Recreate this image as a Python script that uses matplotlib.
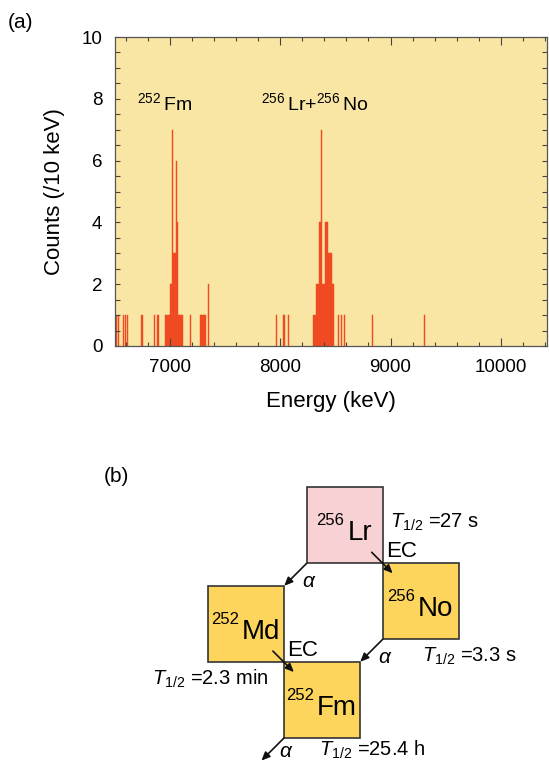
import numpy as np
import matplotlib
matplotlib.use('Agg')
import matplotlib.pyplot as plt
from matplotlib.patches import Rectangle
from matplotlib.ticker import MultipleLocator

plt.rcParams['font.family'] = ['Liberation Sans', 'DejaVu Sans']
plt.rcParams['mathtext.fontset'] = 'custom'
plt.rcParams['mathtext.rm'] = 'Liberation Sans'
plt.rcParams['mathtext.it'] = 'Liberation Sans:italic'
plt.rcParams['mathtext.bf'] = 'Liberation Sans:bold'

# ---- panel (a) data: lower edge of each 10 keV bin and its counts
bin_lo = [6510, 6530, 6570, 6590, 6610,
          6740, 6850, 6880, 6890,
          6950, 6960, 6970, 6980, 6990,
          7000, 7010, 7020, 7030, 7040, 7050, 7060, 7070, 7080, 7090, 7100, 7110,
          7180,
          7270, 7280, 7290, 7300, 7310, 7320, 7340,
          7960, 8020, 8030, 8070,
          8300, 8310, 8320, 8330, 8340, 8350, 8360, 8370, 8380, 8390, 8400,
          8410, 8420, 8430, 8440, 8450, 8460, 8470, 8480,
          8520, 8550, 8580, 8830, 9300]
counts = [1, 1, 1, 1, 1,
          1, 1, 1, 1,
          1, 1, 1, 1, 1,
          2, 2, 7, 3, 3, 6, 4, 1, 1, 1, 1, 1,
          1,
          1, 1, 1, 1, 1, 1, 2,
          1, 1, 1, 1,
          1, 1, 2, 2, 2, 4, 4, 7, 2, 2, 2,
          4, 4, 3, 3, 3, 3, 2, 2,
          1, 1, 1, 1, 1]
bin_width = 10
xticks = [7000, 8000, 9000, 10000]
yticks = [0, 2, 4, 6, 8, 10]

# ---- panel (b) data: decay chain
nuclides = ['Lr', 'No', 'Md', 'Fm']
masses = ['256', '256', '252', '252']
half_lives = ['27 s', '3.3 s', '2.3 min', '25.4 h']
# (parent, daughter, mode)
decays = [('Lr', 'No', 'EC'), ('Lr', 'Md', 'α'), ('Md', 'Fm', 'EC'), ('No', 'Fm', 'α')]

W, H = 549, 762
fig = plt.figure(figsize=(W / 100, H / 100), dpi=100)

# ================= panel (a)
ax = fig.add_axes([115 / W, 1 - 346 / H, 432 / W, 309 / H])
ax.set_facecolor('#FAE6A4')
ax.bar(bin_lo, counts, width=bin_width, align='edge', color='#F04A22',
       edgecolor='#F04A22', linewidth=0.3)
ax.set_xlim(6500, 10420)
ax.set_ylim(0, 10)
ax.set_xticks(xticks)
ax.set_yticks(yticks)
ax.xaxis.set_minor_locator(MultipleLocator(200))
ax.yaxis.set_minor_locator(MultipleLocator(0.5))
ax.tick_params(which='both', direction='in', top=True, right=True, color='#444444')
ax.tick_params(axis='x', which='major', length=6, width=0.8, labelsize=13.5, pad=9)
ax.tick_params(axis='x', which='minor', length=3, width=0.8)
ax.tick_params(axis='y', which='both', length=3.5, width=0.8, labelsize=13.5, pad=9)
for s in ax.spines.values():
    s.set_color('#555555')
    s.set_linewidth(0.9)
ax.set_xlabel('Energy (keV)', fontsize=16, labelpad=11)
ax.set_ylabel('Counts (/10 keV)', fontsize=16, labelpad=12)
ax.text(6702, 7.64, r'$^{252}\,$Fm', fontsize=14, ha='left', va='baseline')
ax.text(7821, 7.64, r'$^{256}\,$Lr+$^{256}\,$No', fontsize=14, ha='left', va='baseline')

fig.text(8 / W, 1 - 23 / H, '(a)', fontsize=15, ha='left', va='center')
fig.text(104 / W, 1 - 477 / H, '(b)', fontsize=15, ha='left', va='center')

# ================= panel (b)
ppu = 76.0  # pixels per box
bx = fig.add_axes([0, 0, 1, 1])
bx.set_xlim(-306.7 / ppu, (W - 306.7) / ppu)
bx.set_ylim(-(H - 487.3) / ppu, 487.3 / ppu)
bx.axis('off')
bx.patch.set_alpha(0)

step = {'EC': np.array([1.0, -1.0]), 'α': np.array([-1.3, -1.3])}
pos = {'Lr': np.array([0.0, 0.0])}
for parent, daughter, mode in decays:
    if daughter not in pos:
        pos[daughter] = pos[parent] + step[mode]

colors = {'Lr': '#F7D1D3'}
for n in nuclides:
    x0, y0 = pos[n]
    bx.add_patch(Rectangle((x0, y0 - 1), 1, 1, facecolor=colors.get(n, '#FDD55C'),
                           edgecolor='#333333', linewidth=1.2, zorder=2))

renderer = fig.canvas.get_renderer()
for n, m in zip(nuclides, masses):
    x0, y0 = pos[n]
    t1 = bx.text(0, 0, m, fontsize=12, ha='left', va='baseline', zorder=3)
    t2 = bx.text(0, 0, n, fontsize=20, ha='left', va='baseline', zorder=3)
    w1 = t1.get_window_extent(renderer).width / ppu
    w2 = t2.get_window_extent(renderer).width / ppu
    gap = 3 / ppu
    left = x0 + 37.5 / ppu - (w1 + gap + w2) / 2
    t1.set_position((left, y0 - 38 / ppu))
    t2.set_position((left + w1 + gap, y0 - 53 / ppu))

# half-life labels placed around each box
hl_place = {'Lr': (1 + 7 / ppu, -40.7 / ppu, 'left'),
            'No': (39 / ppu, -1 - 22 / ppu, 'left'),
            'Md': (61 / ppu, -1 - 22.7 / ppu, 'right'),
            'Fm': (34.7 / ppu, -1 - 17.5 / ppu, 'left')}
for n, hl in zip(nuclides, half_lives):
    dx, dy, ha = hl_place[n]
    x0, y0 = pos[n]
    bx.text(x0 + dx, y0 + dy, r'$T_{\mathrm{1/2}}$ =' + hl, fontsize=14.5,
            ha=ha, va='baseline')

arrow_kw = dict(arrowstyle='-|>,head_length=0.5,head_width=0.22', color='#111111',
                lw=1.2, shrinkA=0, shrinkB=0)
chain = decays + [('Fm', None, 'α')]
for parent, daughter, mode in chain:
    x0, y0 = pos[parent]
    if mode == 'EC':
        start = np.array([x0 + 65 / ppu, y0 - 65 / ppu])
        end = start + np.array([21, -21]) / ppu
        bx.annotate('', xy=end, xytext=start, arrowprops=arrow_kw, zorder=4)
        bx.text(start[0] + 14.5 / ppu, start[1] + 0.5 / ppu, 'EC', fontsize=16,
                ha='left', va='center')
    else:
        start = np.array([x0, y0 - 1])
        end = start + np.array([-22.5, -22.5]) / ppu
        bx.annotate('', xy=end, xytext=start, arrowprops=arrow_kw, zorder=4)
        mid = (start + end) / 2
        dy = -7 / ppu if daughter else -2 / ppu
        bx.text(mid[0] + 13 / ppu, mid[1] + dy, 'α', fontsize=15,
                style='italic', ha='center', va='center')

fig.savefig('out.png', dpi=100)
